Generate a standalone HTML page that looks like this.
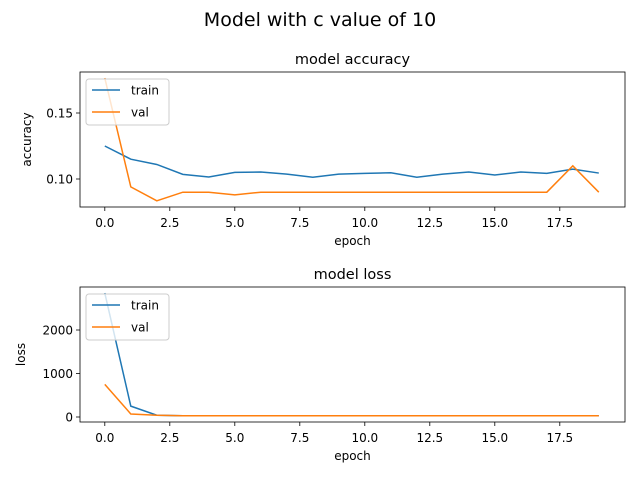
<!DOCTYPE html>
<html><head><meta charset="utf-8"><style>
body{margin:0;background:#fff;font-family:"Liberation Sans","DejaVu Sans",sans-serif}
svg text{font-family:"DejaVu Sans","Liberation Sans",sans-serif;fill:#000}
</style></head><body>
<svg id="fig" width="640" height="480">
<text x="320" y="26" font-size="19" text-anchor="middle">Model with c value of 10</text>
</svg>
<script>
const epochs=[0,1,2,3,4,5,6,7,8,9,10,11,12,13,14,15,16,17,18,19];
const accTrain=[0.125,0.115,0.111,0.1035,0.1015,0.105,0.1053,0.1037,0.1013,0.1037,0.1043,0.1047,0.1013,0.1037,0.1053,0.103,0.1053,0.1043,0.1075,0.1045];
const accVal=[0.1765,0.094,0.0835,0.09,0.09,0.088,0.09,0.09,0.09,0.09,0.09,0.09,0.09,0.09,0.09,0.09,0.09,0.09,0.11,0.09];
const lossTrain=[2850,250,40,30,28,28,28,28,28,28,28,28,28,28,28,28,28,28,28,28];
const lossVal=[750,70,40,30,28,28,28,28,28,28,28,28,28,28,28,28,28,28,28,28];
const xTicks=[0,2.5,5,7.5,10,12.5,15,17.5];
const accTicks=[0.10,0.15];
const lossTicks=[0,1000,2000];
const NS="http://www.w3.org/2000/svg",svg=document.getElementById('fig');
function mk(t,a,p){const e=document.createElementNS(NS,t);for(const k in a)e.setAttribute(k,a[k]);(p||svg).appendChild(e);return e;}
function fmt(v,d){return v.toFixed(d);}
function panel(o){
 const g=mk('g',{});
 
 
 const L=80,R=625,T=o.top,B=o.top+135;
 const sx=v=>104.8+v*26.0;
 const sy=v=>o.y0+(v-o.v0)*o.k;
 const t=mk('text',{x:(L+R)/2,y:T-8,'font-size':14.5,'text-anchor':'middle'},g);t.textContent=o.title;
 
 xTicks.forEach(v=>{const x=sx(v);mk('line',{x1:x,x2:x,y1:B,y2:B+4,stroke:'#000','stroke-width':0.8},g);
  const tt=mk('text',{x:x,y:B+20,'font-size':12,'text-anchor':'middle'},g);tt.textContent=fmt(v,1);
  });
 o.ticks.forEach(v=>{const y=sy(v);mk('line',{x1:L-4,x2:L,y1:y,y2:y,stroke:'#000','stroke-width':0.8},g);
  const tt=mk('text',{x:L-7,y:y+4.5,'font-size':12,'text-anchor':'end'},g);tt.textContent=fmt(v,o.dec);
  });
 const xl=mk('text',{x:(L+R)/2,y:B+38,'font-size':12,'text-anchor':'middle'},g);xl.textContent='epoch';
 
 const yl=mk('text',{x:0,y:0,'font-size':12,'text-anchor':'middle',transform:`translate(${o.ylx},${(T+B)/2}) rotate(-90)`},g);yl.textContent=o.ylab;
 
 [[o.tr,'#1f77b4','train-line'],[o.va,'#ff7f0e','val-line']].forEach(([d,c,n])=>{
  const p=mk('polyline',{points:d.map((v,i)=>sx(epochs[i])+','+sy(v)).join(' '),fill:'none',stroke:c,'stroke-width':1.5},g);
  });
 mk('rect',{x:L,y:T,width:R-L,height:B-T,fill:'none',stroke:'#000','stroke-width':0.8},g);
 const lg=mk('g',{},g);
 mk('rect',{x:86,y:T+7,width:83,height:46,rx:3,fill:'#fff','fill-opacity':0.8,stroke:'#ccc'},lg);
 [['train','#1f77b4'],['val','#ff7f0e']].forEach(([n,c],i)=>{const y=T+18+i*22;
  mk('line',{x1:92,x2:120,y1:y,y2:y,stroke:c,'stroke-width':1.5},lg);
  const tt=mk('text',{x:131,y:y+4.5,'font-size':12},lg);tt.textContent=n;
  });
}
panel({name:'accuracy-panel',title:'model accuracy',top:72,y0:179,v0:0.10,k:-66/0.05,ticks:accTicks,dec:2,ylab:'accuracy',ylx:31,tr:accTrain,va:accVal});
panel({name:'loss-panel',title:'model loss',top:287,y0:417,v0:0,k:-43.5/1000,ticks:lossTicks,dec:0,ylab:'loss',ylx:25,tr:lossTrain,va:lossVal});
</script>
</body></html>
